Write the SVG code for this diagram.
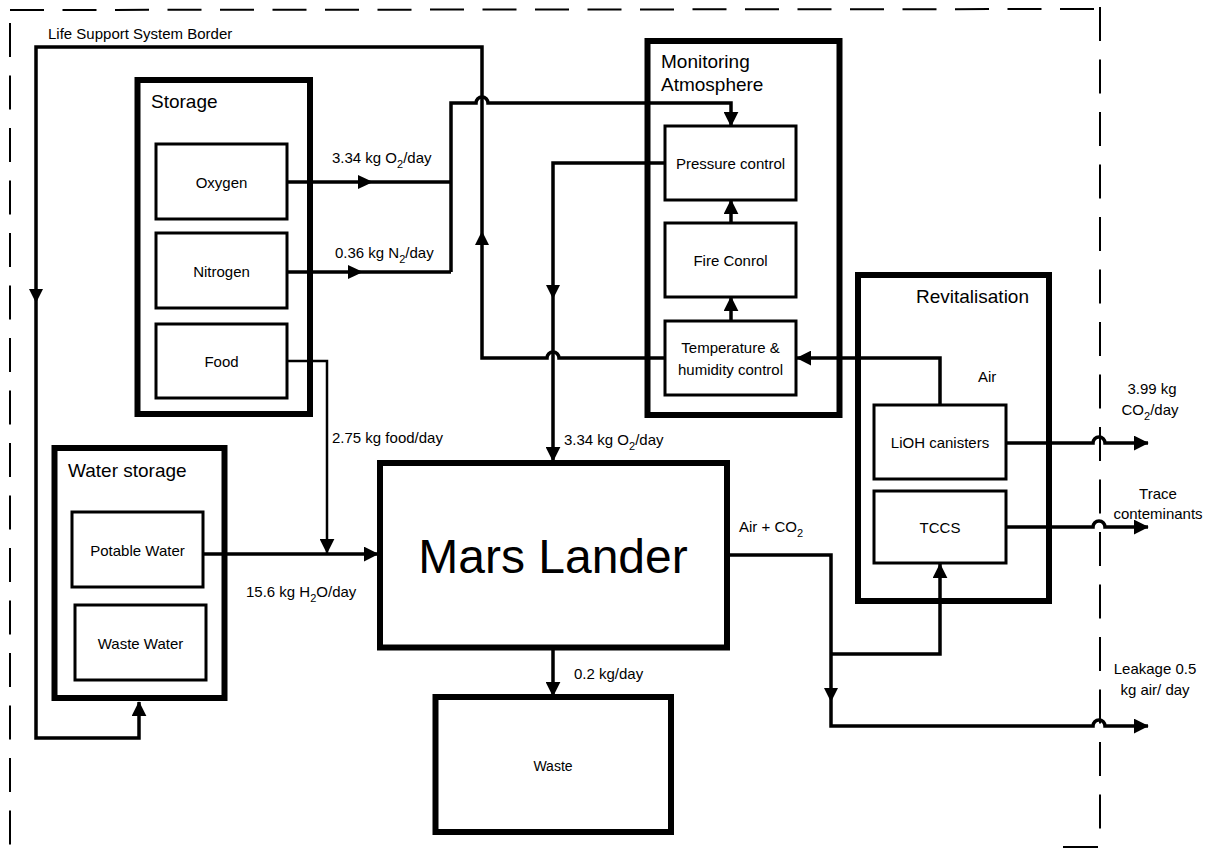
<svg xmlns="http://www.w3.org/2000/svg" width="1214" height="851" viewBox="0 0 1214 851">
<style>
text { font-family: "Liberation Sans", Arial, sans-serif; fill: #000; }
.t15 { font-size: 15px; }
.t14 { font-size: 14px; }
.title { font-size: 19px; }
.mid { text-anchor: middle; }
.cont { fill: #fff; stroke: #000; stroke-width: 6; }
.box { fill: #fff; stroke: #000; stroke-width: 3; }
.c { fill: none; stroke: #000; stroke-width: 3.5; stroke-linejoin: miter; }
.thin { stroke-width: 2.5; }
.dash { fill: none; stroke: #000; stroke-width: 2; stroke-dasharray: 34 18.5; }
.ah { fill: #000; stroke: none; }
</style>
<defs>
<marker id="arr" viewBox="0 0 10 10" refX="9.5" refY="5" markerWidth="15" markerHeight="15" markerUnits="userSpaceOnUse" orient="auto">
<path d="M0,0 L10,5 L0,10 z" fill="#000"/>
</marker>
</defs>

<g id="border">
<line class="dash" x1="10" y1="10" x2="1097" y2="9"/>
<line class="dash" x1="1100" y1="7" x2="1100" y2="830"/>
<line class="dash" x1="10" y1="23" x2="10" y2="851"/>
<line x1="1063" y1="847" x2="1098" y2="847" stroke="#000" stroke-width="2"/>
<text class="t15" x="48" y="39">Life Support System Border</text>
</g>

<g id="storage">
<rect class="cont" x="137.5" y="80" width="172.5" height="334"/>
<text class="title" x="151" y="108">Storage</text>
</g>
<g id="oxygen">
<rect class="box" x="156" y="144" width="131" height="75"/>
<text class="t15 mid" x="221.5" y="188">Oxygen</text>
</g>
<g id="nitrogen">
<rect class="box" x="156" y="233" width="131" height="75"/>
<text class="t15 mid" x="221.5" y="277">Nitrogen</text>
</g>
<g id="food">
<rect class="box" x="156" y="324" width="131" height="74"/>
<text class="t15 mid" x="221.5" y="367">Food</text>
</g>

<g id="monitoring">
<rect class="cont" x="647.5" y="41" width="192" height="374"/>
<text class="title" x="661" y="68">Monitoring</text>
<text class="title" x="661" y="91">Atmosphere</text>
</g>
<g id="pressure">
<rect class="box" x="665" y="126" width="131" height="74"/>
<text class="t15 mid" x="730.5" y="169">Pressure control</text>
</g>
<g id="fire">
<rect class="box" x="665" y="223" width="131" height="74"/>
<text class="t15 mid" x="730.5" y="266">Fire Conrol</text>
</g>
<g id="temperature">
<rect class="box" x="665" y="321" width="131" height="74"/>
<text class="t15 mid" x="730.5" y="353">Temperature &amp;</text>
<text class="t15 mid" x="730.5" y="375">humidity control</text>
</g>

<g id="revitalisation">
<rect class="cont" x="858" y="275" width="191" height="326"/>
<text class="title" x="916" y="303">Revitalisation</text>
<text class="t15" x="978" y="382">Air</text>
</g>
<g id="lioh">
<rect class="box" x="874" y="405" width="132" height="74"/>
<text class="t15 mid" x="940" y="448">LiOH canisters</text>
</g>
<g id="tccs">
<rect class="box" x="874" y="491" width="132" height="72"/>
<text class="t15 mid" x="940" y="533">TCCS</text>
</g>

<g id="water-storage">
<rect class="cont" x="54.5" y="448" width="170" height="250"/>
<text class="title" x="68" y="477">Water storage</text>
</g>
<g id="potable">
<rect class="box" x="72" y="512" width="131" height="75"/>
<text class="t15 mid" x="137.5" y="556">Potable Water</text>
</g>
<g id="wastewater">
<rect class="box" x="75" y="605" width="131" height="75"/>
<text class="t15 mid" x="140.5" y="649">Waste Water</text>
</g>

<g id="mars-lander">
<rect class="cont" x="380" y="463" width="347" height="184.5"/>
<text class="mid" x="553" y="573" font-size="48">Mars Lander</text>
</g>
<g id="waste">
<rect class="cont" x="435.5" y="697" width="235.5" height="135"/>
<text class="t14 mid" x="553" y="771">Waste</text>
</g>

<g id="connectors">
<!-- return loop -->
<path class="c" d="M665,358 L559,358 A6,6 0 0 0 547,358 L482,358 L482,47 L36,47 L36,738 L139,738 L139,702" marker-end="url(#arr)"/>
<polygon class="ah" points="475,245 482,231 489,245"/>
<polygon class="ah" points="29,289 36,303 43,289"/>
<!-- O2 and N2 -->
<path class="c" d="M287,182 L451,182"/>
<polygon class="ah" points="358,175 373,182 358,189"/>
<path class="c" d="M287,272 L451,272"/>
<polygon class="ah" points="348,265 363,272 348,279"/>
<path class="c" d="M451,272 L451,103 L476,103 A6,6 0 0 1 488,103 L731,103 L731,126" marker-end="url(#arr)"/>
<!-- pressure to lander -->
<path class="c" d="M665,163 L553,163 L553,461" marker-end="url(#arr)"/>
<polygon class="ah" points="546,285 553,299 560,285"/>
<!-- internal monitoring -->
<path class="c" d="M731,223 L731,200" marker-end="url(#arr)"/>
<path class="c" d="M731,321 L731,297" marker-end="url(#arr)"/>
<!-- LiOH to temperature -->
<path class="c" d="M940,405 L940,358 L797,358" marker-end="url(#arr)"/>
<!-- outputs -->
<path class="c" d="M1006,443 L1093,443 A6,6 0 0 1 1105,443 L1148,443" marker-end="url(#arr)"/>
<path class="c" d="M1006,527 L1093,527 A6,6 0 0 1 1105,527 L1148,527" marker-end="url(#arr)"/>
<path class="c" d="M727,555 L831,555 L831,726 L1093,726 A6,6 0 0 1 1105,726 L1148,726" marker-end="url(#arr)"/>
<polygon class="ah" points="824,688 831,702 838,688"/>
<path class="c" d="M831,654 L940,654 L940,564" marker-end="url(#arr)"/>
<!-- lander to waste -->
<path class="c" d="M553,648 L553,696" marker-end="url(#arr)"/>
<!-- water and food -->
<path class="c" d="M203,554 L378,554" marker-end="url(#arr)"/>
<path class="c thin" d="M287,361 L327,361 L327,553" marker-end="url(#arr)"/>
</g>

<g id="labels">
<text class="t15" x="332" y="163">3.34 kg O<tspan dy="5" font-size="11">2</tspan><tspan dy="-5">/day</tspan></text>
<text class="t15" x="335" y="258">0.36 kg N<tspan dy="5" font-size="11">2</tspan><tspan dy="-5">/day</tspan></text>
<text class="t15" x="332" y="443">2.75 kg food/day</text>
<text class="t15" x="246" y="597">15.6 kg H<tspan dy="5" font-size="11">2</tspan><tspan dy="-5">O/day</tspan></text>
<text class="t15" x="564" y="445">3.34 kg O<tspan dy="5" font-size="11">2</tspan><tspan dy="-5">/day</tspan></text>
<text class="t15" x="574" y="679">0.2 kg/day</text>
<text class="t15" x="739" y="532">Air +  CO<tspan dy="5" font-size="11">2</tspan></text>
<text class="t15 mid" x="1152" y="394">3.99 kg</text>
<text class="t15 mid" x="1150" y="415">CO<tspan dy="5" font-size="11">2</tspan><tspan dy="-5">/day</tspan></text>
<text class="t15 mid" x="1158" y="499">Trace</text>
<text class="t15 mid" x="1158" y="519">conteminants</text>
<text class="t15 mid" x="1155" y="674">Leakage 0.5</text>
<text class="t15 mid" x="1155" y="695">kg air/ day</text>
</g>
</svg>
